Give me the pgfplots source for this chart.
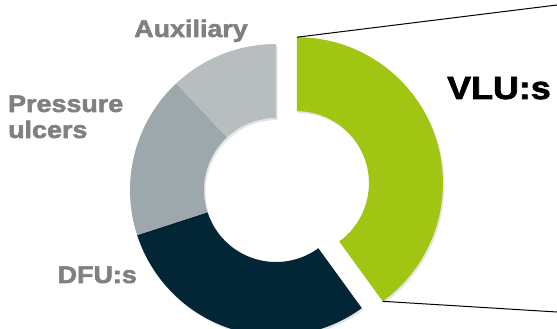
\documentclass[border=0pt]{standalone}
\usepackage{pgfplots}
\usepackage{pgfplotstable}
\pgfplotsset{compat=1.18}
\usepackage{fontspec}
\newfontfamily\heavy{Liberation Sans}[BoldFeatures={FakeBold=2.2,FakeStretch=1.12}]
\definecolor{vlu}{RGB}{161,197,19}
\definecolor{dfu}{RGB}{2,38,54}
\definecolor{pres}{RGB}{157,168,172}
\definecolor{aux}{RGB}{184,189,191}
\definecolor{lab}{RGB}{128,128,128}

\pgfplotstableread{
label value
VLU 40
DFU 30
Pressure 18
Auxiliary 12
}\datatable

\newcommand\donutwedge[5]{%
  \fill[black,opacity=0.10] ([shift={(#2:146pt)},shift={(1.5pt,-2pt)}]axis cs:#4,#5) arc[start angle=#2,end angle=#3,radius=146pt] -- ([shift={(#3:72pt)},shift={(1.5pt,-2pt)}]axis cs:#4,#5) arc[start angle=#3,end angle=#2,radius=72pt] -- cycle;
  \fill[#1] ([shift={(#2:146pt)}]axis cs:#4,#5) arc[start angle=#2,end angle=#3,radius=146pt] -- ([shift={(#3:72pt)}]axis cs:#4,#5) arc[start angle=#3,end angle=#2,radius=72pt] -- cycle;}

\begin{document}
\begin{tikzpicture}
\pgfplotstablegetelem{0}{value}\of\datatable \let\vA\pgfplotsretval
\pgfplotstablegetelem{1}{value}\of\datatable \let\vB\pgfplotsretval
\pgfplotstablegetelem{2}{value}\of\datatable \let\vC\pgfplotsretval
\pgfplotstablegetelem{3}{value}\of\datatable \let\vD\pgfplotsretval
\pgfmathsetmacro\aA{90}
\pgfmathsetmacro\aB{\aA-3.6*\vA}
\pgfmathsetmacro\aC{\aB-3.6*\vB}
\pgfmathsetmacro\aD{\aC-3.6*\vC}
\pgfmathsetmacro\aE{\aD-3.6*\vD}
\pgfmathsetmacro\aMid{(\aA+\aB)/2}
\pgfmathsetmacro\ex{276+22*cos(\aMid)}
\pgfmathsetmacro\ey{139+22*sin(\aMid)}
\pgfmathsetmacro\cAx{\ex+146*cos(\aA)}
\pgfmathsetmacro\cAy{\ey+146*sin(\aA)}
\pgfmathsetmacro\cBx{\ex+146*cos(\aB)}
\pgfmathsetmacro\cBy{\ey+146*sin(\aB)}
\begin{axis}[width=557pt,height=329pt,scale only axis,
  xmin=0,xmax=557,ymin=0,ymax=329,hide axis,clip=true]
\donutwedge{vlu}{\aA}{\aB}{\ex}{\ey}
\donutwedge{dfu}{\aB}{\aC}{276}{139}
\donutwedge{pres}{\aC}{\aD}{276}{139}
\donutwedge{aux}{\aD}{\aE}{276}{139}
\addplot[black,line width=1pt] coordinates {(\cAx,\cAy) (557,324)};
\addplot[black,line width=1pt] coordinates {(\cBx,\cBy) (557,17)};
\node[anchor=base,inner sep=0,text=lab,font=\heavy\bfseries\fontsize{24}{27}\selectfont] at (axis cs:191,292) {Auxiliary};
\node[anchor=base west,inner sep=0,text=lab,font=\heavy\bfseries\fontsize{24}{27}\selectfont] at (axis cs:8,217) {Pressure};
\node[anchor=base west,inner sep=0,text=lab,font=\heavy\bfseries\fontsize{24}{27}\selectfont] at (axis cs:8,191) {ulcers};
\node[anchor=base east,inner sep=0,text=lab,font=\heavy\bfseries\fontsize{24}{27}\selectfont] at (axis cs:137,46) {DFU:s};
\node[anchor=base west,inner sep=0,text=black,font=\heavy\bfseries\fontsize{32}{35}\selectfont] at (axis cs:447,230) {VLU:s};
\end{axis}
\pgfresetboundingbox
\path[use as bounding box] (0,0) rectangle (557pt,329pt);
\end{tikzpicture}
\end{document}
